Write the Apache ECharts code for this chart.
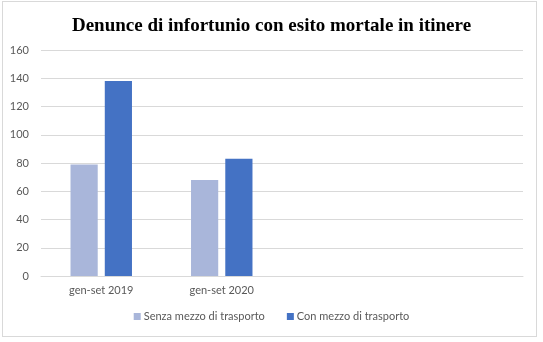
<!DOCTYPE html>
<html><head><meta charset="utf-8">
<script src="https://cdn.jsdelivr.net/npm/echarts@6/dist/echarts.min.js"></script>
<style>
html,body{margin:0;padding:0;background:#fff;}
#wrap{position:relative;width:543px;height:342px;}
#frame{position:absolute;left:2px;top:1px;width:535px;height:336px;border:1px solid #d9d9d9;box-sizing:border-box;pointer-events:none;}
#c{position:absolute;left:0;top:0;width:543px;height:342px;}
</style></head>
<body><div id="wrap"><div id="c"></div><div id="frame"></div></div>
<script>
const titleText = 'Denunce di infortunio con esito mortale in itinere';
const categories = ['gen-set 2019', 'gen-set 2020', '', ''];
const seriesNames = ['Senza mezzo di trasporto', 'Con mezzo di trasporto'];
const senzaMezzo = [79, 68, null, null];
const conMezzo = [138, 83, null, null];
const yTicks = {min: 0, max: 160, interval: 20};

const chart = echarts.init(document.getElementById('c'), null, {renderer: 'canvas'});
const lbl = {fontFamily: 'Lato, "Open Sans", sans-serif', fontSize: 11, color: '#595959'};
chart.setOption({
  animation: false,
  backgroundColor: '#fff',
  title: {text: titleText, left: 'center', top: 12,
    textStyle: {fontFamily: '"Liberation Serif", "Times New Roman", serif', fontWeight: 'bold', fontSize: 19, color: '#000'}},
  grid: {left: 41, right: 20, top: 50, bottom: 66},
  legend: {bottom: 15, left: 'center', itemWidth: 7, itemHeight: 7, itemGap: 22, icon: 'rect',
    textStyle: Object.assign({}, lbl, {padding: [0, 0, 0, -2]}), data: seriesNames},
  xAxis: {type: 'category', data: categories,
    axisLine: {lineStyle: {color: '#d9d9d9'}}, axisTick: {show: false},
    axisLabel: Object.assign({margin: 9, interval: 0}, lbl)},
  yAxis: {type: 'value', min: yTicks.min, max: yTicks.max, interval: yTicks.interval,
    axisLine: {show: false}, axisTick: {show: false},
    axisLabel: Object.assign({margin: 12}, lbl),
    splitLine: {lineStyle: {color: '#d9d9d9'}}},
  series: [
    {name: seriesNames[0], type: 'bar', data: senzaMezzo, itemStyle: {color: '#A9B6DA'}, barGap: '26%', barCategoryGap: '49%'},
    {name: seriesNames[1], type: 'bar', data: conMezzo, itemStyle: {color: '#4472C4'}}
  ]
});
</script></body></html>
